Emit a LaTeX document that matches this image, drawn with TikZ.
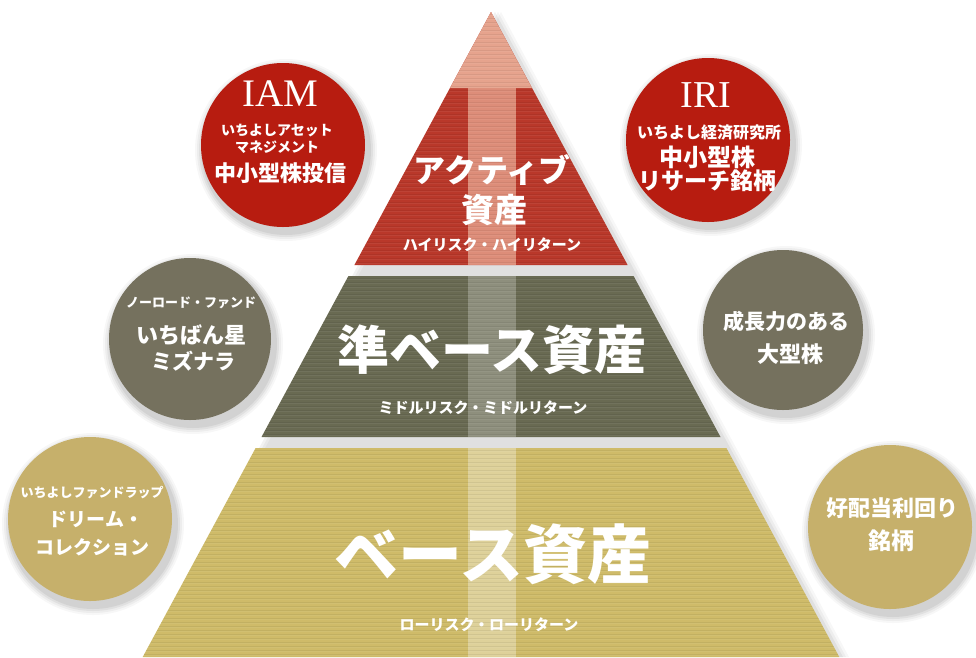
\documentclass[tikz,border=0pt]{standalone}
\usepackage{fontspec}
\newfontfamily\jp{Noto Sans CJK JP}
\newfontfamily\lserif{Liberation Serif}
\newcommand\fsz[1]{\fontsize{#1}{#1}\selectfont}
\definecolor{cred}{HTML}{B71C10}
\definecolor{colive}{HTML}{75715E}
\definecolor{cgold}{HTML}{C6B06B}
\definecolor{tred}{HTML}{B9382A}
\definecolor{tsalmon}{HTML}{E6A38D}
\definecolor{tolive}{HTML}{696A52}
\definecolor{tgold}{HTML}{CFBB69}
\tikzset{
  bub/.style={circle, minimum size=#1, inner sep=0pt},
  ctext/.style={text=white, font=\jp\bfseries, align=center, inner sep=0pt},
  ptext/.style={text=white, font=\jp\bfseries, inner sep=0pt},
}
\newcommand\shadowcircle[3]{%
  \foreach \k/\o in {9/0.03,7/0.04,5/0.05,3/0.06}{
    \fill[black, opacity=\o] (#1+3,#2+5) circle (#3+\k);
  }%
}
\begin{document}
\begin{tikzpicture}[x=1pt,y=-1pt]
\useasboundingbox (0,0) rectangle (976,657);
\fill[white] (0,0) rectangle (976,657);

% pyramid soft shadow
\foreach \k/\o in {10/0.03,7/0.04,4/0.05}{
  \fill[black, opacity=\o] (491+\k,12) -- (839+\k,657) -- (142+\k,657) -- cycle;
}

% tiers
\coordinate (apex) at (491,12);
\fill[tred] (apex) -- (627.6,265) -- (354.4,265) -- cycle;
\fill[tolive] (348.4,276) -- (633.6,276) -- (720.5,437) -- (261.5,437) -- cycle;
\fill[tgold] (255.6,448) -- (726.4,448) -- (839.3,657) -- (142.7,657) -- cycle;

% arrow: head and stripe
\fill[tsalmon] (apex) -- (532,88) -- (450,88) -- cycle;
\fill[tsalmon, opacity=0.8] (468,88) rectangle (516,265);
\fill[white, opacity=0.25] (468,276) rectangle (516,437);
\fill[white, opacity=0.33] (468,448) rectangle (516,657);

% texture
\begin{scope}
  \clip (apex) -- (627.6,265) -- (354.4,265) -- cycle
        (348.4,276) -- (633.6,276) -- (720.5,437) -- (261.5,437) -- cycle
        (255.6,448) -- (726.4,448) -- (839.3,657) -- (142.7,657) -- cycle;
  \foreach \y in {14,18,...,657}{
    \draw[black, opacity=0.06, line width=0.8pt] (140,\y) -- (845,\y);
    \draw[white, opacity=0.06, line width=0.6pt] (140,\y+1.6) -- (845,\y+1.6);
  }
\end{scope}

% pyramid texts
\node[ptext, font=\jp\bfseries\fsz{32}] (t1a) at (492,170) {アクティブ};
\node[ptext, font=\jp\bfseries\fsz{33}] (t1b) at (494,210) {資産};
\node[ptext, font=\jp\bfseries\fsz{15}] (t1c) at (492,245) {ハイリスク・ハイリターン};

\node[ptext, font=\jp\bfseries\fsz{52}] (t2a) at (492,350) {準ベース資産};
\node[ptext, font=\jp\bfseries\fsz{15}] (t2b) at (483,408) {ミドルリスク・ミドルリターン};

\node[ptext, font=\jp\bfseries\fsz{64}] (t3a) at (493,554) {ベース資産};
\node[ptext, font=\jp\bfseries\fsz{15}] (t3b) at (489,625) {ローリスク・ローリターン};

% circle shadows
\shadowcircle{283}{145}{82}
\shadowcircle{708}{140}{82}
\shadowcircle{190}{339}{81}
\shadowcircle{783}{330}{80}
\shadowcircle{90}{519}{82}
\shadowcircle{890}{527}{82}

% circles
\node[bub=164pt, fill=cred] (iam) at (283,145) {};
\node[bub=164pt, fill=cred] (iri) at (708,140) {};
\node[bub=162pt, fill=colive] (nol) at (190,339) {};
\node[bub=160pt, fill=colive] (gro) at (783,330) {};
\node[bub=164pt, fill=cgold] (drm) at (90,519) {};
\node[bub=164pt, fill=cgold] (div) at (890,527) {};

% IAM
\node[ctext, font=\lserif\fsz{39}] (iamA) at (280,94) {IAM};
\node[ctext, font=\jp\bfseries\fsz{14}] (iamB) at (277,131) {いちよしアセット};
\node[ctext, font=\jp\bfseries\fsz{14}] (iamC) at (277,147) {マネジメント};
\node[ctext, font=\jp\bfseries\fsz{22}] (iamD) at (280,173) {中小型株投信};

% IRI
\node[ctext, font=\lserif\fsz{38}] (iriA) at (706,95) {IRI};
\node[ctext, font=\jp\bfseries\fsz{16}] (iriB) at (709,132) {いちよし経済研究所};
\node[ctext, font=\jp\bfseries\fsz{24}] (iriC) at (707,157) {中小型株};
\node[ctext, font=\jp\bfseries\fsz{23}] (iriD) at (707,181) {リサーチ銘柄};

% left olive
\node[ctext, font=\jp\bfseries\fsz{13}] (nolA) at (191,303) {ノーロード・ファンド};
\node[ctext, font=\jp\bfseries\fsz{22}] (nolB) at (191,335) {いちばん星};
\node[ctext, font=\jp\bfseries\fsz{21}] (nolC) at (193,361) {ミズナラ};

% right olive
\node[ctext, font=\jp\bfseries\fsz{21}] (groA) at (786,321) {成長力のある};
\node[ctext, font=\jp\bfseries\fsz{22}] (groB) at (790,354) {大型株};

% bottom left gold
\node[ctext, font=\jp\bfseries\fsz{13}] (drmA) at (92,493) {いちよしファンドラップ};
\node[ctext, font=\jp\bfseries\fsz{19}] (drmB) at (96,519) {ドリーム・};
\node[ctext, font=\jp\bfseries\fsz{19}] (drmC) at (92,547) {コレクション};

% bottom right gold
\node[ctext, font=\jp\bfseries\fsz{22}] (divA) at (892,508) {好配当利回り};
\node[ctext, font=\jp\bfseries\fsz{23}] (divB) at (891,541) {銘柄};
\end{tikzpicture}
\end{document}
